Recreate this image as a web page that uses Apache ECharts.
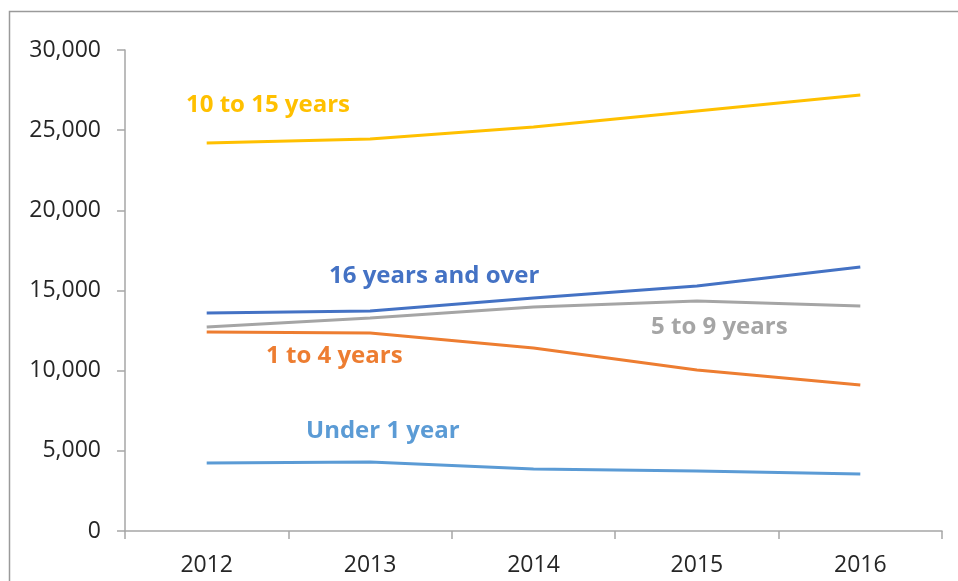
<!DOCTYPE html>
<html>
<head>
<meta charset="utf-8">
<script src="https://cdn.jsdelivr.net/npm/echarts@6/dist/echarts.min.js"></script>
<style>
html,body{margin:0;padding:0;background:#fff;}
#chart{width:958px;height:581px;}
</style>
</head>
<body>
<div id="chart"></div>
<script>
var years = ['2012', '2013', '2014', '2015', '2016'];
var seriesNames = ['10 to 15 years', '16 years and over', '5 to 9 years', '1 to 4 years', 'Under 1 year'];
var tenTo15 = [24200, 24450, 25200, 26200, 27200];
var sixteenPlus = [13600, 13720, 14530, 15280, 16470];
var fiveTo9 = [12720, 13280, 13970, 14340, 14030];
var oneTo4 = [12410, 12350, 11410, 10040, 9110];
var under1 = [4240, 4300, 3870, 3740, 3560];
var yTicks = [0, 5000, 10000, 15000, 20000, 25000, 30000];

var colors = ['#FFC000', '#4472C4', '#A5A5A5', '#ED7D31', '#5B9BD5'];
var values = [tenTo15, sixteenPlus, fiveTo9, oneTo4, under1];
var labelPos = [[186, 105], [329, 276], [651, 327], [266, 356], [306, 431]];
var FONT = '"Open Sans", "Noto Sans", sans-serif';

var chart = echarts.init(document.getElementById('chart'));
var series = values.map(function (v, i) {
  return {
    name: seriesNames[i], type: 'line', data: v, symbol: 'none',
    lineStyle: {color: colors[i], width: 3}, itemStyle: {color: colors[i]},
    z: 10 - i
  };
});
var graphics = [{
  type: 'rect', shape: {x: 9.5, y: 11.5, width: 1200, height: 1200},
  style: {fill: null, stroke: '#9a9a9a', lineWidth: 1.5}, silent: true
}];
seriesNames.forEach(function (n, i) {
  graphics.push({
    type: 'text', x: labelPos[i][0], y: labelPos[i][1],
    style: {text: n, fill: colors[i], font: 'bold 24px ' + FONT,
            textAlign: 'left', textVerticalAlign: 'middle'}
  });
});
chart.setOption({
  animation: false,
  grid: {left: 125, top: 50, width: 817, height: 481, containLabel: false},
  xAxis: {
    type: 'category', data: years, boundaryGap: true,
    axisLine: {lineStyle: {color: '#a6a6a6', width: 1.5}},
    axisTick: {show: true, length: 8, lineStyle: {color: '#a6a6a6', width: 1.5}},
    axisLabel: {color: '#262626', fontFamily: FONT, fontSize: 23, margin: 23}
  },
  yAxis: {
    type: 'value', min: yTicks[0], max: yTicks[yTicks.length - 1], interval: 5000,
    axisLine: {show: true, lineStyle: {color: '#a6a6a6', width: 1.5}},
    axisTick: {show: true, length: 8, lineStyle: {color: '#a6a6a6', width: 1.5}},
    splitLine: {show: false},
    axisLabel: {
      color: '#262626', fontFamily: FONT, fontSize: 23, margin: 24,
      formatter: function (v) { return v.toLocaleString('en-US'); }
    }
  },
  series: series,
  graphic: graphics
});
</script>
</body>
</html>
